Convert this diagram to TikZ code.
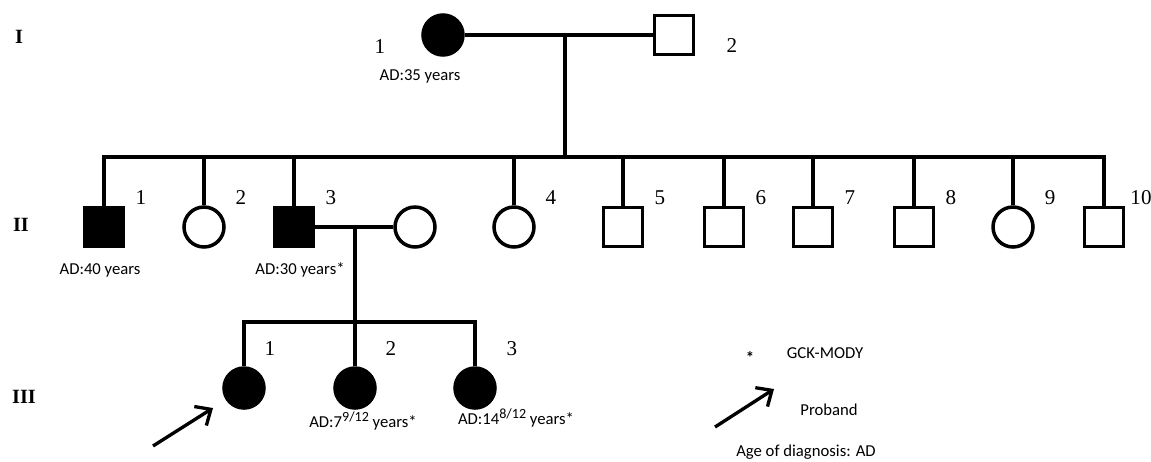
\documentclass[tikz,border=0pt]{standalone}
\usepackage{fontspec}
\setmainfont{Liberation Serif}
\newfontfamily\cali{Carlito}
\usetikzlibrary{arrows.meta}

\tikzset{
    person/.style={draw, line width=2pt, inner sep=0pt},
    male/.style={person, rectangle, minimum size=0.78cm},
    female/.style={person, circle, minimum size=0.8cm},
    affmale/.style={male, fill=black},
    afffemale/.style={female, fill=black},
    num/.style={font=\fontsize{12}{12}\selectfont},
    gen/.style={font=\fontsize{11.5}{11.5}\selectfont\bfseries},
    ad/.style={font=\cali\fontsize{9.5}{10}\selectfont},
    link/.style={line width=1.9pt},
    pointer/.style={line width=1.9pt, -{Straight Barb[length=2.5mm,width=4.5mm]}}
}

\begin{document}
\begin{tikzpicture}[x=0.02cm, y=-0.02cm]
    \useasboundingbox (0,0) rectangle (1151,461);

    \node[gen] (g1) at (19,37) {I};
    \node[gen] (g2) at (21,225) {II};
    \node[gen] (g3) at (24,397) {III};

    \node[afffemale] (i1) at (443,35) {};
    \node[male] (i2) at (674,35) {};
    \node[num] (li1) at (380,47) {1};
    \node[num] (li2) at (732,46) {2};
    \node[ad] (adi1) at (420,76) {AD:35 years};
    \coordinate (m1) at (565,35);
    \coordinate (s1) at (565,157);
    \draw[link] (i1) -- (i2);
    \draw[link] (m1) -- (s1);

    \foreach \x/\st/\n in {104/affmale/1,204/female/2,294/affmale/3,514/female/4,623/male/5,
                           724/male/6,813/male/7,914/male/8,1013/female/9,1104/male/10} {
        \node[\st] (ii\n) at (\x,227) {};
        \node[num] (lii\n) at (\x+37,198) {\n};
    }
    \draw[link] (ii1.north) |- (s1) -| (ii10.north);
    \foreach \n in {2,...,9}
        \draw[link] (ii\n.north) -- (ii\n.north |- s1);
    \node[ad] (adii1) at (100,270) {AD:40 years};
    \node[ad] (adii3) at (300,270) {AD:30 years*};

    \node[female] (ii3w) at (415,227) {};
    \coordinate (m2) at (355,227);
    \coordinate (s2) at (355,322);
    \draw[link] (ii3) -- (ii3w);
    \draw[link] (m2) -- (s2);

    \node[afffemale] (iii1) at (244,388) {};
    \node[afffemale] (iii2) at (355,388) {};
    \node[afffemale] (iii3) at (475,388) {};
    \node[num] (liii1) at (270,349) {1};
    \node[num] (liii2) at (391,349) {2};
    \node[num] (liii3) at (512,349) {3};
    \draw[link] (iii1.north) |- (s2) -| (iii3.north);
    \draw[link] (iii2.north) -- (s2);
    \node[ad] (adiii2) at (363,421) {AD:7{\fontsize{8}{8}\selectfont\raisebox{0.8ex}{9/12}} years*};
    \node[ad] (adiii3) at (516,418) {AD:14{\fontsize{8}{8}\selectfont\raisebox{0.8ex}{8/12}} years*};

    \coordinate (pa) at (153,446);
    \coordinate (pb) at (213,408);
    \draw[pointer] (pa) -- (pb);

    \node[ad] (lgstar) at (750,358) {\bfseries *};
    \node[ad] (lggck) at (825,353) {GCK-MODY};
    \coordinate (la) at (715,427);
    \coordinate (lb) at (774,389);
    \draw[pointer] (la) -- (lb);
    \node[ad] (lgpro) at (829,410) {Proband};
    \node[ad] (lgage) at (806,452) {Age of diagnosis: AD};
\end{tikzpicture}
\end{document}
